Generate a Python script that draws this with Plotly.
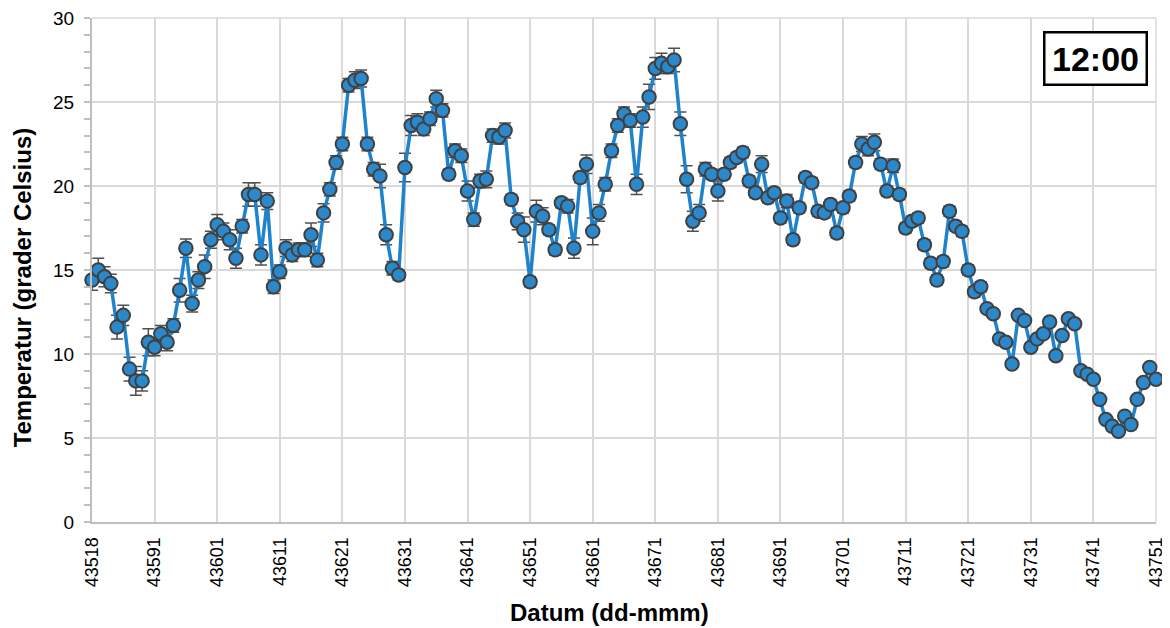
import plotly.graph_objects as go

# Day serial numbers (consecutive days)
days = list(range(43581, 43752))

temps = [
    14.4, 15.0, 14.6, 14.2, 11.6, 12.3, 9.1, 8.4, 8.4, 10.7,
    10.4, 11.2, 10.7, 11.7, 13.8, 16.3, 13.0, 14.4, 15.2, 16.8,
    17.7, 17.3, 16.8, 15.7, 17.6, 19.5, 19.5, 15.9, 19.1, 14.0,
    14.9, 16.3, 15.9, 16.2, 16.2, 17.1, 15.6, 18.4, 19.8, 21.4,
    22.5, 26.0, 26.3, 26.4, 22.5, 21.0, 20.6, 17.1, 15.1, 14.7,
    21.1, 23.6, 23.8, 23.4, 24.0, 25.2, 24.5, 20.7, 22.1, 21.8,
    19.7, 18.0, 20.3, 20.4, 23.0, 22.9, 23.3, 19.2, 17.9, 17.4,
    14.3, 18.5, 18.2, 17.4, 16.2, 19.0, 18.8, 16.3, 20.5, 21.3,
    17.3, 18.4, 20.1, 22.1, 23.6, 24.3, 23.9, 20.1, 24.1, 25.3,
    27.0, 27.3, 27.1, 27.5, 23.7, 20.4, 17.9, 18.4, 21.0, 20.7,
    19.7, 20.7, 21.4, 21.7, 22.0, 20.3, 19.6, 21.3, 19.3, 19.6,
    18.1, 19.1, 16.8, 18.7, 20.5, 20.2, 18.5, 18.4, 18.9, 17.2,
    18.7, 19.4, 21.4, 22.5, 22.2, 22.6, 21.3, 19.7, 21.2, 19.5,
    17.5, 17.9, 18.1, 16.5, 15.4, 14.4, 15.5, 18.5, 17.6, 17.3,
    15.0, 13.7, 14.0, 12.7, 12.4, 10.9, 10.7, 9.4, 12.3, 12.0,
    10.4, 10.9, 11.2, 11.9, 9.9, 11.1, 12.1, 11.8, 9.0, 8.8,
    8.5, 7.3, 6.1, 5.7, 5.4, 6.3, 5.8, 7.3, 8.3, 9.2,
    8.5,
]

errors = [
    0.6, 0.7, 0.6, 0.55, 0.7, 0.6, 0.7, 0.85, 0.6, 0.8,
    0.5, 0.5, 0.5, 0.4, 0.7, 0.55, 0.5, 0.5, 0.7, 0.5,
    0.6, 0.5, 0.6, 0.6, 0.4, 0.7, 0.7, 0.6, 0.5, 0.4,
    0.4, 0.5, 0.4, 0.4, 0.4, 0.7, 0.4, 0.55, 0.4, 0.4,
    0.4, 0.4, 0.5, 0.5, 0.4, 0.4, 0.7, 0.6, 0.4, 0.3,
    0.85, 0.6, 0.5, 0.4, 0.4, 0.5, 0.4, 0.3, 0.4, 0.4,
    0.6, 0.4, 0.4, 0.5, 0.4, 0.4, 0.45, 0.3, 0.5, 0.75,
    0.3, 0.65, 0.5, 0.3, 0.3, 0.3, 0.4, 0.6, 0.3, 0.55,
    0.8, 0.5, 0.4, 0.4, 0.4, 0.4, 0.4, 0.6, 0.6, 0.75,
    0.65, 0.6, 0.4, 0.7, 0.7, 0.8, 0.6, 0.5, 0.4, 0.3,
    0.6, 0.3, 0.3, 0.3, 0.3, 0.3, 0.3, 0.5, 0.3, 0.3,
    0.3, 0.4, 0.3, 0.3, 0.3, 0.3, 0.3, 0.3, 0.3, 0.3,
    0.3, 0.3, 0.3, 0.45, 0.4, 0.5, 0.3, 0.3, 0.4, 0.3,
    0.3, 0.3, 0.3, 0.3, 0.3, 0.3, 0.3, 0.3, 0.3, 0.3,
    0.3, 0.3, 0.3, 0.2, 0.2, 0.2, 0.2, 0.2, 0.2, 0.2,
    0.2, 0.2, 0.2, 0.2, 0.2, 0.2, 0.2, 0.2, 0.2, 0.2,
    0.2, 0.2, 0.2, 0.2, 0.2, 0.2, 0.2, 0.2, 0.2, 0.2,
    0.2,
]

tick_vals = [43581, 43591, 43601, 43611, 43621, 43631, 43641, 43651, 43661,
             43671, 43681, 43691, 43701, 43711, 43721, 43731, 43741, 43751]
tick_text = ["43518", "43591", "43601", "43611", "43621", "43631", "43641",
             "43651", "43661", "43671", "43681", "43691", "43701", "43711",
             "43721", "43731", "43741", "43751"]

FONT = "Liberation Sans, Arial, sans-serif"

fig = go.Figure()
fig.add_trace(go.Scatter(
    x=days, y=temps,
    mode="lines+markers",
    line=dict(color="#1f83cb", width=3.5),
    marker=dict(size=13.5, color="#2b88ca", line=dict(color="#404040", width=2)),
    error_y=dict(type="data", array=errors, visible=True,
                 color="#505050", thickness=1.5, width=6),
    cliponaxis=False,
    showlegend=False,
))

# page body has an 8px default margin, so size/margins compensate for it
fig.update_layout(
    width=1162, height=620,
    margin=dict(l=84, r=14, t=10, b=106),
    paper_bgcolor="white", plot_bgcolor="white",
    font=dict(family=FONT, size=18, color="black"),
    xaxis=dict(
        range=[43581, 43751],
        tickmode="array", tickvals=tick_vals, ticktext=tick_text,
        tickangle=-90,
        showgrid=True, gridcolor="#d9d9d9", gridwidth=1.5,
        showline=True, linecolor="#bfbfbf", linewidth=2,
        ticks="", zeroline=False, automargin=False,
        ticklabeloverflow="allow",
        tickfont=dict(family=FONT, size=18),
        ticklabelstandoff=6,
    ),
    yaxis=dict(
        range=[0, 30], dtick=5, tick0=0,
        showgrid=True, gridcolor="#d9d9d9", gridwidth=1.5,
        showline=True, linecolor="#bfbfbf", linewidth=2,
        ticks="outside", ticklen=6, tickcolor="#bfbfbf", tickwidth=1.5,
        minor=dict(dtick=1, ticks="outside", ticklen=6, tickcolor="#bfbfbf",
                   tickwidth=1.5, showgrid=False),
        zeroline=False, automargin=False,
        ticklabeloverflow="allow",
        tickfont=dict(family=FONT, size=19),
        ticklabelstandoff=6,
    ),
    annotations=[
        dict(
            x=0.9925, y=0.974, xref="paper", yref="paper",
            xanchor="right", yanchor="top",
            text="<b>12:00</b>", showarrow=False,
            width=90, height=40, align="center", valign="middle",
            font=dict(family=FONT, size=34, color="black"),
            bordercolor="black", borderwidth=2.5, borderpad=5,
            bgcolor="white",
        ),
        dict(
            x=0.4868, y=-0.1786, xref="paper", yref="paper",
            xanchor="center", yanchor="middle",
            text="<b>Datum (dd-mmm)</b>", showarrow=False,
            font=dict(family=FONT, size=24, color="black"),
        ),
        dict(
            x=-0.0645, y=0.4663, xref="paper", yref="paper",
            xanchor="center", yanchor="middle", textangle=-90,
            text="<b>Temperatur (grader Celsius)</b>", showarrow=False,
            font=dict(family=FONT, size=24, color="black"),
            borderpad=0,
        ),
    ],
)

fig.add_shape(type="line", xref="paper", yref="paper", x0=1, x1=1, y0=0, y1=1,
              line=dict(color="#d9d9d9", width=1.5), layer="below")
fig.add_shape(type="line", xref="paper", yref="paper", x0=0, x1=1, y0=1, y1=1,
              line=dict(color="#d9d9d9", width=1.5), layer="below")

fig.write_html("out.html")
